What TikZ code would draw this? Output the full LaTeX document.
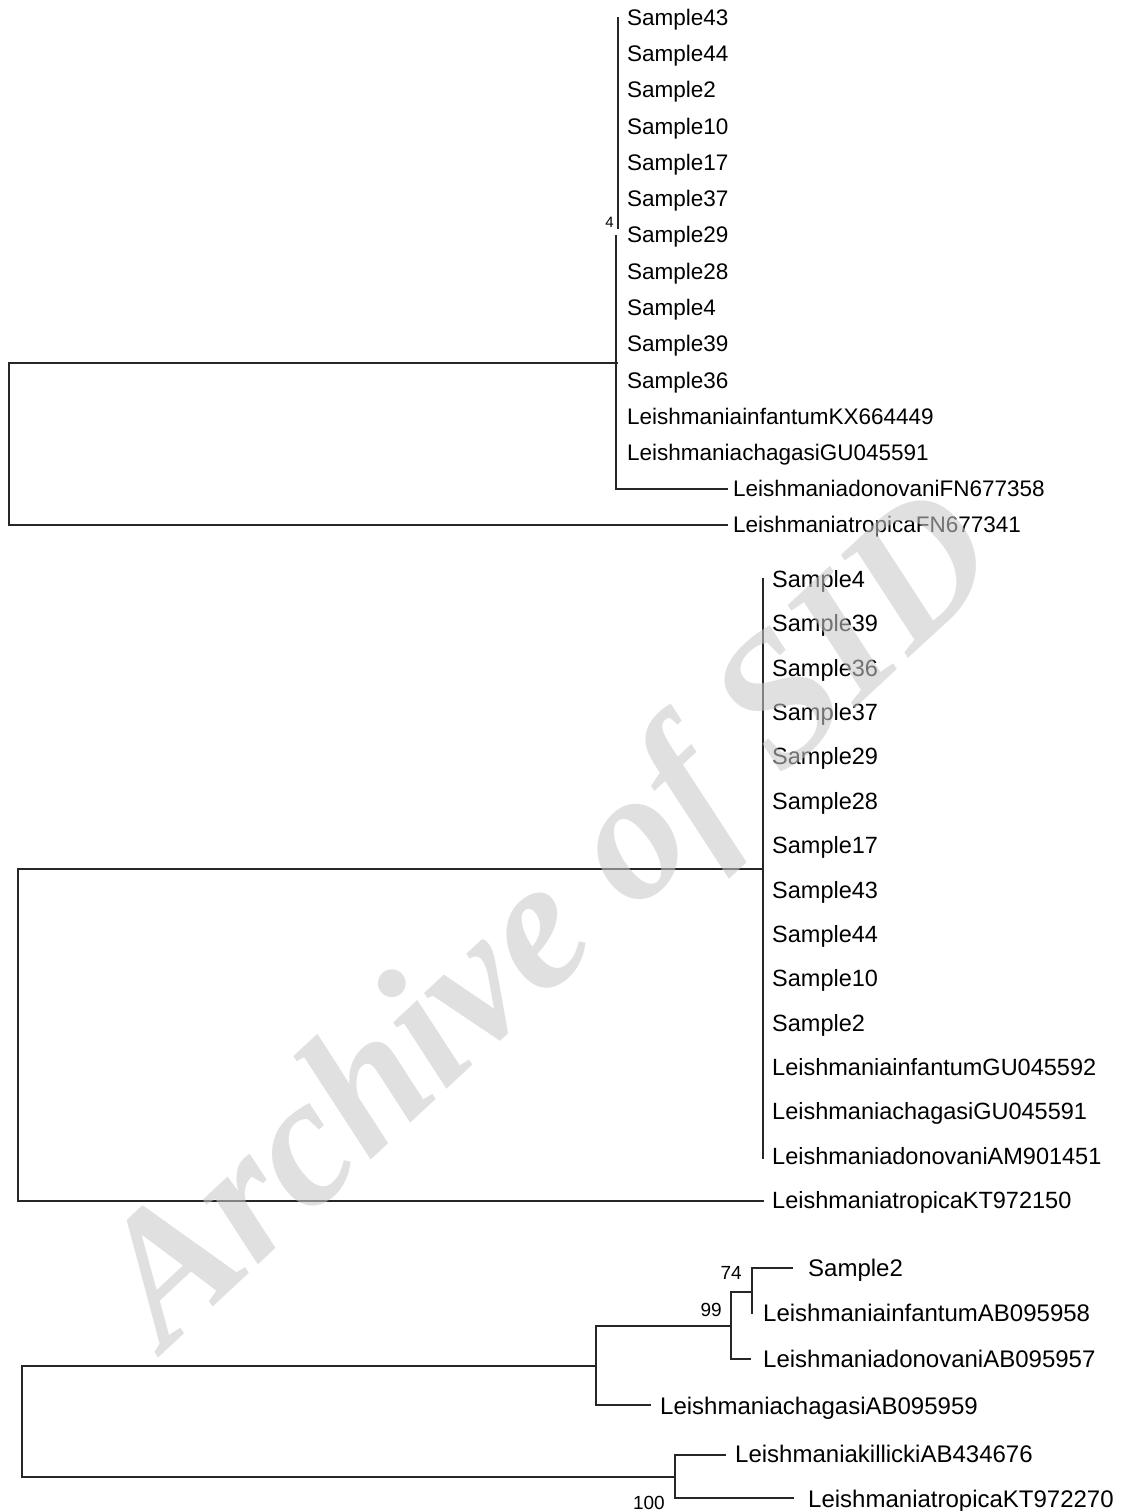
\documentclass[tikz,border=0pt]{standalone}
\usepackage{fontspec}
\setmainfont{Liberation Sans}
\newfontfamily\wmfont{Liberation Serif}
\begin{document}
\begin{tikzpicture}[x=1pt,y=-1pt]
\tikzset{
  br/.style={line width=1.5pt, draw=black!85, line cap=rect},
  lone/.style={anchor=base west, inner sep=0pt, font=\fontsize{22.5}{24}\selectfont},
  ltwo/.style={anchor=base west, inner sep=0pt, font=\fontsize{23.5}{25}\selectfont},
  lthree/.style={anchor=base west, inner sep=0pt, font=\fontsize{24}{26}\selectfont},
  boot/.style={anchor=base east, inner sep=0pt, font=\fontsize{19}{20}\selectfont},
}
\useasboundingbox[fill=white] (0,0) rectangle (1126,1511);

% ---------- Tree 1 ----------
\coordinate (t1r) at (9,363);
\coordinate (t1rb) at (9,525);
\coordinate (t1n) at (617,363);
\coordinate (t1top) at (618,18);
\coordinate (t1m1) at (618,228);
\coordinate (t1m2) at (616,236);
\coordinate (t1bot) at (616,489);
\coordinate (t1don) at (727,489);
\coordinate (t1trop) at (727,525);
\draw[br] (t1rb) -- (t1r) -- (t1n);
\draw[br] (t1top) -- (t1m1);
\draw[br] (t1m2) -- (t1bot) -- (t1don);
\draw[br] (t1rb) -- (t1trop);
\foreach \n [count=\i] in {Sample43,Sample44,Sample2,Sample10,Sample17,Sample37,Sample29,Sample28,Sample4,Sample39,Sample36,LeishmaniainfantumKX664449,LeishmaniachagasiGU045591}
  \node[lone] (t1l\i) at (627,{18+36.25*(\i-1)+7.5}) {\n};
\node[lone] (t1ldon) at (733,496) {LeishmaniadonovaniFN677358};
\node[lone] (t1ltrop) at (733,532) {LeishmaniatropicaFN677341};
\node[boot, font=\fontsize{15}{16}\selectfont] (t1b) at (614,228) {4};

% ---------- Tree 2 ----------
\coordinate (t2r) at (18,869);
\coordinate (t2rb) at (18,1201);
\coordinate (t2n) at (763,869);
\coordinate (t2top) at (763,579);
\coordinate (t2bot) at (763,1158);
\coordinate (t2trop) at (763,1201);
\draw[br] (t2rb) -- (t2r) -- (t2n);
\draw[br] (t2top) -- (t2bot);
\draw[br] (t2rb) -- (t2trop);
\foreach \n [count=\i] in {Sample4,Sample39,Sample36,Sample37,Sample29,Sample28,Sample17,Sample43,Sample44,Sample10,Sample2,LeishmaniainfantumGU045592,LeishmaniachagasiGU045591,LeishmaniadonovaniAM901451,LeishmaniatropicaKT972150}
  \node[ltwo] (t2l\i) at (772,{579+44.36*(\i-1)+8.5}) {\n};

% ---------- Tree 3 ----------
\coordinate (t3r) at (22,1366);
\coordinate (t3rb) at (22,1477);
\coordinate (t3a) at (596,1366);
\coordinate (t3at) at (596,1326);
\coordinate (t3ab) at (596,1405);
\coordinate (t3cha) at (650,1405);
\coordinate (t3bt) at (731,1292);
\coordinate (t3bb) at (731,1359);
\coordinate (t3don) at (750,1359);
\coordinate (t3b) at (731,1326);
\coordinate (t3c) at (752,1292);
\coordinate (t3ct) at (752,1268);
\coordinate (t3cb) at (752,1313);
\coordinate (t3s2) at (792,1268);
\coordinate (t3d) at (675,1477);
\coordinate (t3dt) at (675,1455);
\coordinate (t3db) at (675,1498);
\coordinate (t3kil) at (725,1455);
\coordinate (t3trop) at (793,1498);
\draw[br] (t3rb) -- (t3r) -- (t3a);
\draw[br] (t3at) -- (t3ab) -- (t3cha);
\draw[br] (t3at) -- (t3b);
\draw[br] (t3bt) -- (t3bb) -- (t3don);
\draw[br] (t3bt) -- (t3c);
\draw[br] (t3cb) -- (t3ct) -- (t3s2);
\draw[br] (t3rb) -- (t3d);
\draw[br] (t3dt) -- (t3db) -- (t3trop);
\draw[br] (t3dt) -- (t3kil);
\node[lthree] (t3ls2) at (808,1276) {Sample2};
\node[lthree] (t3linf) at (763,1321) {LeishmaniainfantumAB095958};
\node[lthree] (t3ldon) at (763,1367) {LeishmaniadonovaniAB095957};
\node[lthree] (t3lcha) at (660,1414) {LeishmaniachagasiAB095959};
\node[lthree] (t3lkil) at (735,1462) {LeishmaniakillickiAB434676};
\node[lthree] (t3ltrop) at (808,1507) {LeishmaniatropicaKT972270};
\node[boot] (t3b74) at (742,1279) {74};
\node[boot] (t3b99) at (722,1316) {99};
\node[boot] (t3b100) at (665,1509) {100};

% ---------- Watermark ----------
\node[anchor=base west, inner sep=0pt, rotate=43, opacity=0.57,
      text={rgb,1:red,0.79;green,0.79;blue,0.79},
      font=\wmfont\bfseries\itshape\fontsize{185}{185}\selectfont]
      (wm) at (165,1352) {Archive of SID};
\end{tikzpicture}
\end{document}
